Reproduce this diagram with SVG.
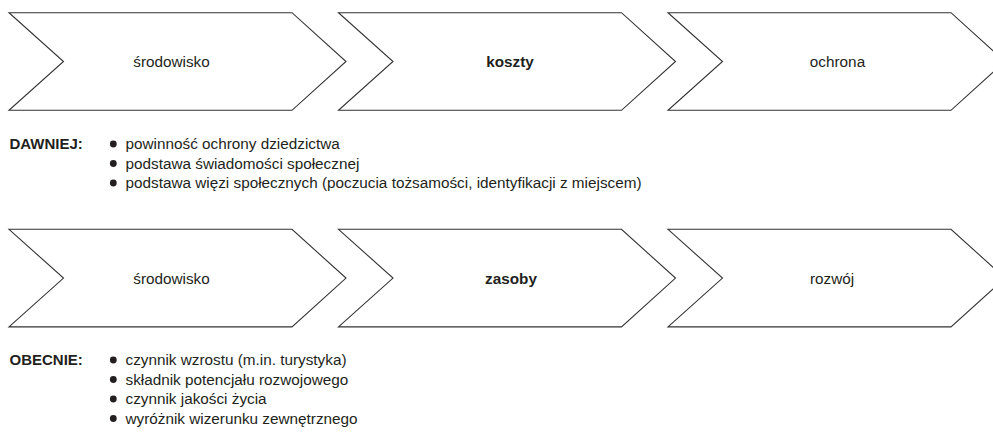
<svg xmlns="http://www.w3.org/2000/svg" xmlns:xlink="http://www.w3.org/1999/xlink" width="993" height="435" viewBox="0 0 993 435">
  <style>
    .chev { fill: #ffffff; stroke: #333333; stroke-width: 1.1; stroke-linejoin: miter; }
    .lbl { font-family: "Liberation Sans", Arial, sans-serif; font-size: 15.3px; fill: #231f20; text-anchor: middle; }
    .bold { font-weight: bold; }
    .head { font-family: "Liberation Sans", Arial, sans-serif; font-size: 15px; font-weight: bold; fill: #231f20; }
    .item { font-family: "Liberation Sans", Arial, sans-serif; font-size: 15.3px; fill: #231f20; }
    .dot { fill: #231f20; }
  </style>
  <defs>
    <polygon id="chevron" class="chev" points="0,0 283,0 337,48.8 283,97.6 0,97.6 54.5,48.8"/>
  </defs>
  <rect width="993" height="435" fill="#ffffff"/>

  <g id="row1-srodowisko">
    <use xlink:href="#chevron" href="#chevron" x="9" y="12.7"/>
    <text class="lbl" x="171.5" y="67">środowisko</text>
  </g>
  <g id="row1-koszty">
    <use xlink:href="#chevron" href="#chevron" x="338.5" y="12.7"/>
    <text class="lbl bold" x="510" y="67">koszty</text>
  </g>
  <g id="row1-ochrona">
    <use xlink:href="#chevron" href="#chevron" x="668" y="12.7"/>
    <text class="lbl" x="837.5" y="67">ochrona</text>
  </g>

  <g id="dawniej">
    <text class="head" x="9.5" y="149">DAWNIEJ:</text>
    <circle class="dot" cx="113.3" cy="144" r="3.4"/>
    <text class="item" x="125.5" y="149">powinność ochrony dziedzictwa</text>
    <circle class="dot" cx="113.3" cy="163.5" r="3.4"/>
    <text class="item" x="125.5" y="168.5">podstawa świadomości społecznej</text>
    <circle class="dot" cx="113.3" cy="183" r="3.4"/>
    <text class="item" x="125.5" y="188">podstawa więzi społecznych (poczucia tożsamości, identyfikacji z miejscem)</text>
  </g>

  <g id="row2-srodowisko">
    <use xlink:href="#chevron" href="#chevron" x="9" y="229.3"/>
    <text class="lbl" x="171.5" y="283.5">środowisko</text>
  </g>
  <g id="row2-zasoby">
    <use xlink:href="#chevron" href="#chevron" x="338.5" y="229.3"/>
    <text class="lbl bold" x="511" y="283.5">zasoby</text>
  </g>
  <g id="row2-rozwoj">
    <use xlink:href="#chevron" href="#chevron" x="668" y="229.3"/>
    <text class="lbl" x="832" y="283.5">rozwój</text>
  </g>

  <g id="obecnie">
    <text class="head" x="9.5" y="365">OBECNIE:</text>
    <circle class="dot" cx="113.3" cy="360" r="3.4"/>
    <text class="item" x="125.5" y="365">czynnik wzrostu (m.in. turystyka)</text>
    <circle class="dot" cx="113.3" cy="379.5" r="3.4"/>
    <text class="item" x="125.5" y="384.5">składnik potencjału rozwojowego</text>
    <circle class="dot" cx="113.3" cy="399" r="3.4"/>
    <text class="item" x="125.5" y="404">czynnik jakości życia</text>
    <circle class="dot" cx="113.3" cy="418.5" r="3.4"/>
    <text class="item" x="125.5" y="423.5">wyróżnik wizerunku zewnętrznego</text>
  </g>
</svg>
